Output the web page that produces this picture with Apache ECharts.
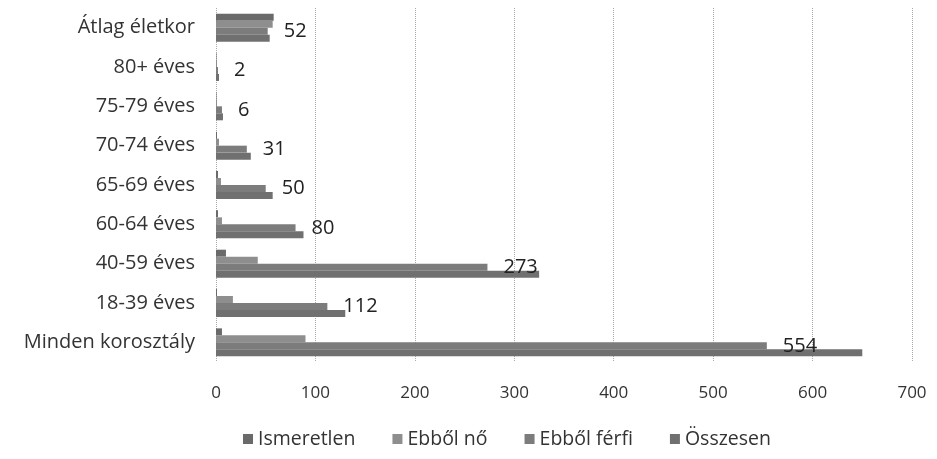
<!DOCTYPE html>
<html><head><meta charset="utf-8">
<script src="https://cdn.jsdelivr.net/npm/echarts@6/dist/echarts.min.js"></script>
<style>html,body{margin:0;padding:0;background:#fff}#c{width:937px;height:459px}</style>
</head><body><div id="c"></div>
<script>
const categories = ['Minden korosztály','18-39 éves','40-59 éves','60-64 éves','65-69 éves','70-74 éves','75-79 éves','80+ éves','Átlag életkor'];
const seriesNames = ['Ismeretlen','Ebből nő','Ebből férfi','Összesen'];
const ismeretlen = [6, 1, 10, 2, 2, 1, 0.5, 0.5, 58];
const nok = [90, 17, 42, 6, 5, 3, 1, 1, 57];
const ferfiak = [554, 112, 273, 80, 50, 31, 6, 2, 52];
const osszesen = [650, 130, 325, 88, 57, 35, 7, 3, 54];
const xTicks = [0, 100, 200, 300, 400, 500, 600, 700];

const colors = ['#6a6a6a', '#8e8e8e', '#7c7c7c', '#707070'];
const font = '"Open Sans", "Noto Sans", sans-serif';
const dataSets = [ismeretlen, nok, ferfiak, osszesen];
const chart = echarts.init(document.getElementById('c'));
chart.setOption({
  animation: false,
  textStyle: {fontFamily: font},
  grid: {left: 216, right: 25, top: 8, bottom: 97},
  legend: {
    bottom: 5, left: 238, itemWidth: 10, itemHeight: 10, itemGap: 37,
    icon: 'rect',
    textStyle: {fontSize: 19.5, color: '#333', fontFamily: font},
    data: seriesNames
  },
  xAxis: {
    type: 'value', min: xTicks[0], max: xTicks[xTicks.length - 1], interval: 100,
    axisLine: {show: false}, axisTick: {show: false},
    axisLabel: {fontSize: 17, color: '#333', margin: 23},
    splitLine: {show: true, lineStyle: {type: 'dotted', color: '#aaa', width: 1}}
  },
  yAxis: {
    type: 'category', data: categories,
    axisLine: {show: false}, axisTick: {show: false},
    axisLabel: {fontSize: 20, color: '#333', margin: 21}
  },
  series: seriesNames.map((n, i) => ({
    name: n, type: 'bar', data: dataSets[i],
    barGap: '0%', barCategoryGap: '29%',
    itemStyle: {color: colors[i]},
    label: i === 2 ? {show: true, position: 'right', distance: 16, fontSize: 20, color: '#222', fontFamily: font} : {show: false}
  }))
});
</script></body></html>
